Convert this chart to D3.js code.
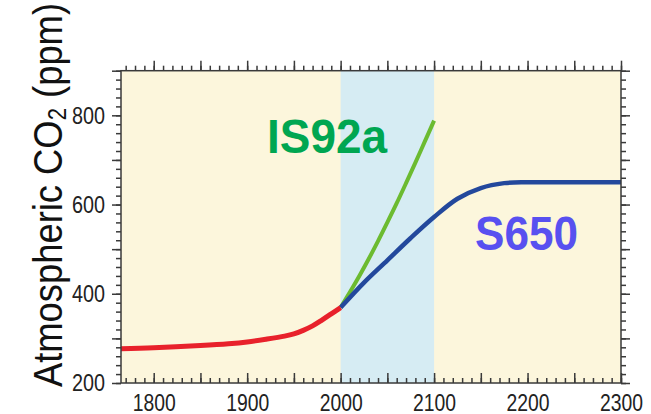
<!DOCTYPE html>
<html>
<head>
<meta charset="utf-8">
<script src="https://cdn.jsdelivr.net/npm/d3@7"></script>
<style>
  body { margin: 0; background: #fff; }
  svg { display: block; }
  .axis text { font-family: "Liberation Sans", Arial, sans-serif; font-size: 24px; fill: #222; }
  .axis line { stroke: #3a3a3a; stroke-width: 1.5; }
  .axis path { display: none; }
</style>
</head>
<body>
<div id="chart"></div>
<script>
/* DATA */
const histYears = [1765, 1800, 1850, 1880, 1900, 1920, 1940, 1950, 1960, 1970, 1980, 1990, 2000];
const histCO2 = [277, 279, 284, 288, 292, 298, 305, 310, 318, 328, 341, 355, 369];

const is92aYears = [2000, 2010, 2020, 2030, 2040, 2050, 2060, 2070, 2080, 2090, 2100];
const is92aCO2 = [369, 404, 440, 478, 518, 560, 603, 648, 694, 741, 788];

const s650Years = [2000, 2025, 2050, 2075, 2100, 2125, 2150, 2175, 2200, 2250, 2300];
const s650CO2 = [369, 425, 475, 525, 572, 613, 637, 648, 650, 650, 650];

const xTickLabels = [1800, 1900, 2000, 2100, 2200, 2300];
const yTickLabels = [200, 400, 600, 800];
const bandYears = [2000, 2100];

/* LAYOUT */
const W = 651, H = 414;
const plot = { left: 121, right: 621, top: 70.7, bottom: 383 };

const svg = d3.select('#chart').append('svg')
  .attr('width', W).attr('height', H);

const x = d3.scaleLinear().domain([1765, 2300]).range([plot.left, plot.right]);
const y = d3.scaleLinear().domain([200, 900]).range([plot.bottom, plot.top]);

// background + highlighted century
svg.append('rect')
  .attr('x', plot.left).attr('y', plot.top)
  .attr('width', plot.right - plot.left).attr('height', plot.bottom - plot.top)
  .attr('fill', '#fcf6dc');
svg.append('rect')
  .attr('x', x(bandYears[0])).attr('y', plot.top)
  .attr('width', x(bandYears[1]) - x(bandYears[0])).attr('height', plot.bottom - plot.top)
  .attr('fill', '#d6ecf3');

// curves
const line = d3.line()
  .x(d => x(d[0]))
  .y(d => y(d[1]))
  .curve(d3.curveCatmullRom.alpha(0.5));

const zip = (a, b) => a.map((v, i) => [v, b[i]]);

svg.append('path').datum(zip(is92aYears, is92aCO2))
  .attr('d', line).attr('fill', 'none')
  .attr('stroke', '#6cbb30').attr('stroke-width', 4);
svg.append('path').datum(zip(s650Years, s650CO2))
  .attr('d', line).attr('fill', 'none')
  .attr('stroke', '#23489c').attr('stroke-width', 4.5);
svg.append('path').datum(zip(histYears, histCO2))
  .attr('d', line).attr('fill', 'none')
  .attr('stroke', '#e8212b').attr('stroke-width', 5);

// axes: minor + major ticks on all four sides
const xMinor = d3.range(1770, 2301, 10);
const xMajor = d3.range(1800, 2301, 50);
const yMinor = d3.range(200, 901, 20);
const yMajor = d3.range(200, 901, 100);

function addAxis(axis, tr) {
  return svg.append('g').attr('class', 'axis').attr('transform', tr).call(axis);
}

// bottom: ticks point inward
addAxis(d3.axisBottom(x).tickValues(xMinor).tickSize(-5).tickFormat(''), `translate(0,${plot.bottom})`);
const xb = addAxis(d3.axisBottom(x).tickValues(xMajor).tickSize(-10).tickPadding(11)
  .tickFormat(d => xTickLabels.includes(d) ? d : ''), `translate(0,${plot.bottom})`);
xb.selectAll('text').filter(d => xTickLabels.includes(d)).attr('textLength', 43).attr('lengthAdjust', 'spacingAndGlyphs');

// top: ticks outward
addAxis(d3.axisTop(x).tickValues(xMinor).tickSize(5).tickFormat(''), `translate(0,${plot.top})`);
addAxis(d3.axisTop(x).tickValues(xMajor).tickSize(10).tickFormat(''), `translate(0,${plot.top})`);

// left: outward
addAxis(d3.axisLeft(y).tickValues(yMinor).tickSize(5).tickFormat(''), `translate(${plot.left},0)`);
const yl = addAxis(d3.axisLeft(y).tickValues(yMajor).tickSize(9).tickPadding(7)
  .tickFormat(d => yTickLabels.includes(d) ? d : ''), `translate(${plot.left},0)`);
yl.selectAll('text').filter(d => yTickLabels.includes(d)).attr('textLength', 33).attr('lengthAdjust', 'spacingAndGlyphs');

// right: outward
addAxis(d3.axisRight(y).tickValues(yMinor).tickSize(5).tickFormat(''), `translate(${plot.right},0)`);
addAxis(d3.axisRight(y).tickValues(yMajor).tickSize(9).tickFormat(''), `translate(${plot.right},0)`);

// frame
svg.append('rect')
  .attr('x', plot.left).attr('y', plot.top)
  .attr('width', plot.right - plot.left).attr('height', plot.bottom - plot.top)
  .attr('fill', 'none').attr('stroke', '#3a3a3a').attr('stroke-width', 1.5);

// y axis title
const title = svg.append('text')
  .attr('transform', `translate(62,195) rotate(-90)`)
  .attr('text-anchor', 'middle')
  .attr('font-family', '"Liberation Sans", Arial, sans-serif')
  .attr('font-size', 41)
  .attr('fill', '#111')
  .attr('textLength', 384)
  .attr('lengthAdjust', 'spacingAndGlyphs');
title.append('tspan').text('Atmospheric CO');
title.append('tspan').attr('font-size', 25).attr('dy', 4).text('2');
title.append('tspan').attr('dy', -4).text(' (ppm)');

// series labels
svg.append('text')
  .attr('x', 267).attr('y', 152.5)
  .attr('font-family', '"Liberation Sans", Arial, sans-serif')
  .attr('font-weight', 'bold').attr('font-size', 49)
  .attr('fill', '#00a651')
  .attr('textLength', 120).attr('lengthAdjust', 'spacingAndGlyphs')
  .text('IS92a');
svg.append('text')
  .attr('x', 475).attr('y', 250)
  .attr('font-family', '"Liberation Sans", Arial, sans-serif')
  .attr('font-weight', 'bold').attr('font-size', 49)
  .attr('fill', '#5850f0')
  .attr('textLength', 103).attr('lengthAdjust', 'spacingAndGlyphs')
  .text('S650');
</script>
</body>
</html>
